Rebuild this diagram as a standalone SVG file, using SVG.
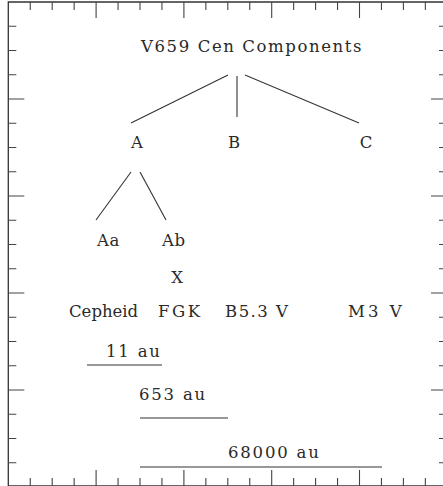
<svg xmlns="http://www.w3.org/2000/svg" width="443" height="486" viewBox="0 0 443 486">
<style>
.ax{stroke:#333;stroke-width:1.3;fill:none}
.tk{stroke:#444;stroke-width:1.1;fill:none}
.ln{stroke:#333;stroke-width:1.1;fill:none}
.t{font-family:"DejaVu Serif","Liberation Serif",serif;font-size:16.5px;fill:#2a2a2a;letter-spacing:1.8px}
.m{text-anchor:middle;letter-spacing:0}
</style>
<rect width="443" height="486" fill="#fff"/>
<g id="frame">
<path class="ax" d="M8.3,2 H447 V486 H8.3 Z"/>
<path class="tk" d="M30.25,2v8M52.2,2v8M74.15,2v8M96.1,2v16M118.05,2v8M140,2v8M161.95,2v8M183.9,2v16M205.85,2v8M227.8,2v8M249.75,2v8M271.7,2v16M293.65,2v8M315.6,2v8M337.55,2v8M359.5,2v16M381.45,2v8M403.4,2v8M425.35,2v8"/>
<path class="tk" d="M30.25,486v-8M52.2,486v-8M74.15,486v-8M96.1,486v-16M118.05,486v-8M140,486v-8M161.95,486v-8M183.9,486v-16M205.85,486v-8M227.8,486v-8M249.75,486v-8M271.7,486v-16M293.65,486v-8M315.6,486v-8M337.55,486v-8M359.5,486v-16M381.45,486v-8M403.4,486v-8M425.35,486v-8"/>
<path class="tk" d="M8.3,26.25h8M8.3,50.5h8M8.3,74.75h8M8.3,99h16M8.3,123.25h8M8.3,147.5h8M8.3,171.75h8M8.3,196h16M8.3,220.25h8M8.3,244.5h8M8.3,268.75h8M8.3,293h16M8.3,317.25h8M8.3,341.5h8M8.3,365.75h8M8.3,390h16M8.3,414.25h8M8.3,438.5h8M8.3,462.75h8"/>
<path class="tk" d="M447,26.25h-8M447,50.5h-8M447,74.75h-8M447,99h-16M447,123.25h-8M447,147.5h-8M447,171.75h-8M447,196h-16M447,220.25h-8M447,244.5h-8M447,268.75h-8M447,293h-16M447,317.25h-8M447,341.5h-8M447,365.75h-8M447,390h-16M447,414.25h-8M447,438.5h-8M447,462.75h-8"/>
</g>
<g id="connectors">
<path class="ln" d="M228,75L131,123"/>
<path class="ln" d="M237,76V117"/>
<path class="ln" d="M245,75L359,123"/>
<path class="ln" d="M131,172L96,220"/>
<path class="ln" d="M140,172L166,220"/>
</g>
<g id="title"><text class="t" x="141" y="52" style="letter-spacing:1.6px">V659 Cen Components</text></g>
<g id="node-A"><text class="t m" x="137" y="148">A</text></g>
<g id="node-B"><text class="t m" x="234" y="148">B</text></g>
<g id="node-C"><text class="t m" x="366" y="148">C</text></g>
<g id="node-Aa"><text class="t" x="97" y="246" style="letter-spacing:0.5px">Aa</text></g>
<g id="node-Ab"><text class="t" x="162" y="246" style="letter-spacing:0.5px">Ab</text></g>
<g id="label-X"><text class="t m" x="177" y="283">X</text></g>
<g id="types">
<text class="t" x="69" y="317" style="letter-spacing:0">Cepheid</text>
<text class="t" x="158" y="317" style="letter-spacing:2.5px">FGK</text>
<text class="t" x="225" y="317" style="letter-spacing:1.5px">B5.3 V</text>
<text class="t" x="348" y="317" style="letter-spacing:3px">M3 V</text>
</g>
<g id="scale-11">
<text class="t" x="106" y="357">11 au</text>
<path class="ln" d="M87,365H162"/>
</g>
<g id="scale-653">
<text class="t" x="139" y="400">653 au</text>
<path class="ln" d="M140,418H228"/>
</g>
<g id="scale-68000">
<text class="t" x="228" y="458">68000 au</text>
<path class="ln" d="M140,467H382" stroke="#555"/>
</g>
</svg>
